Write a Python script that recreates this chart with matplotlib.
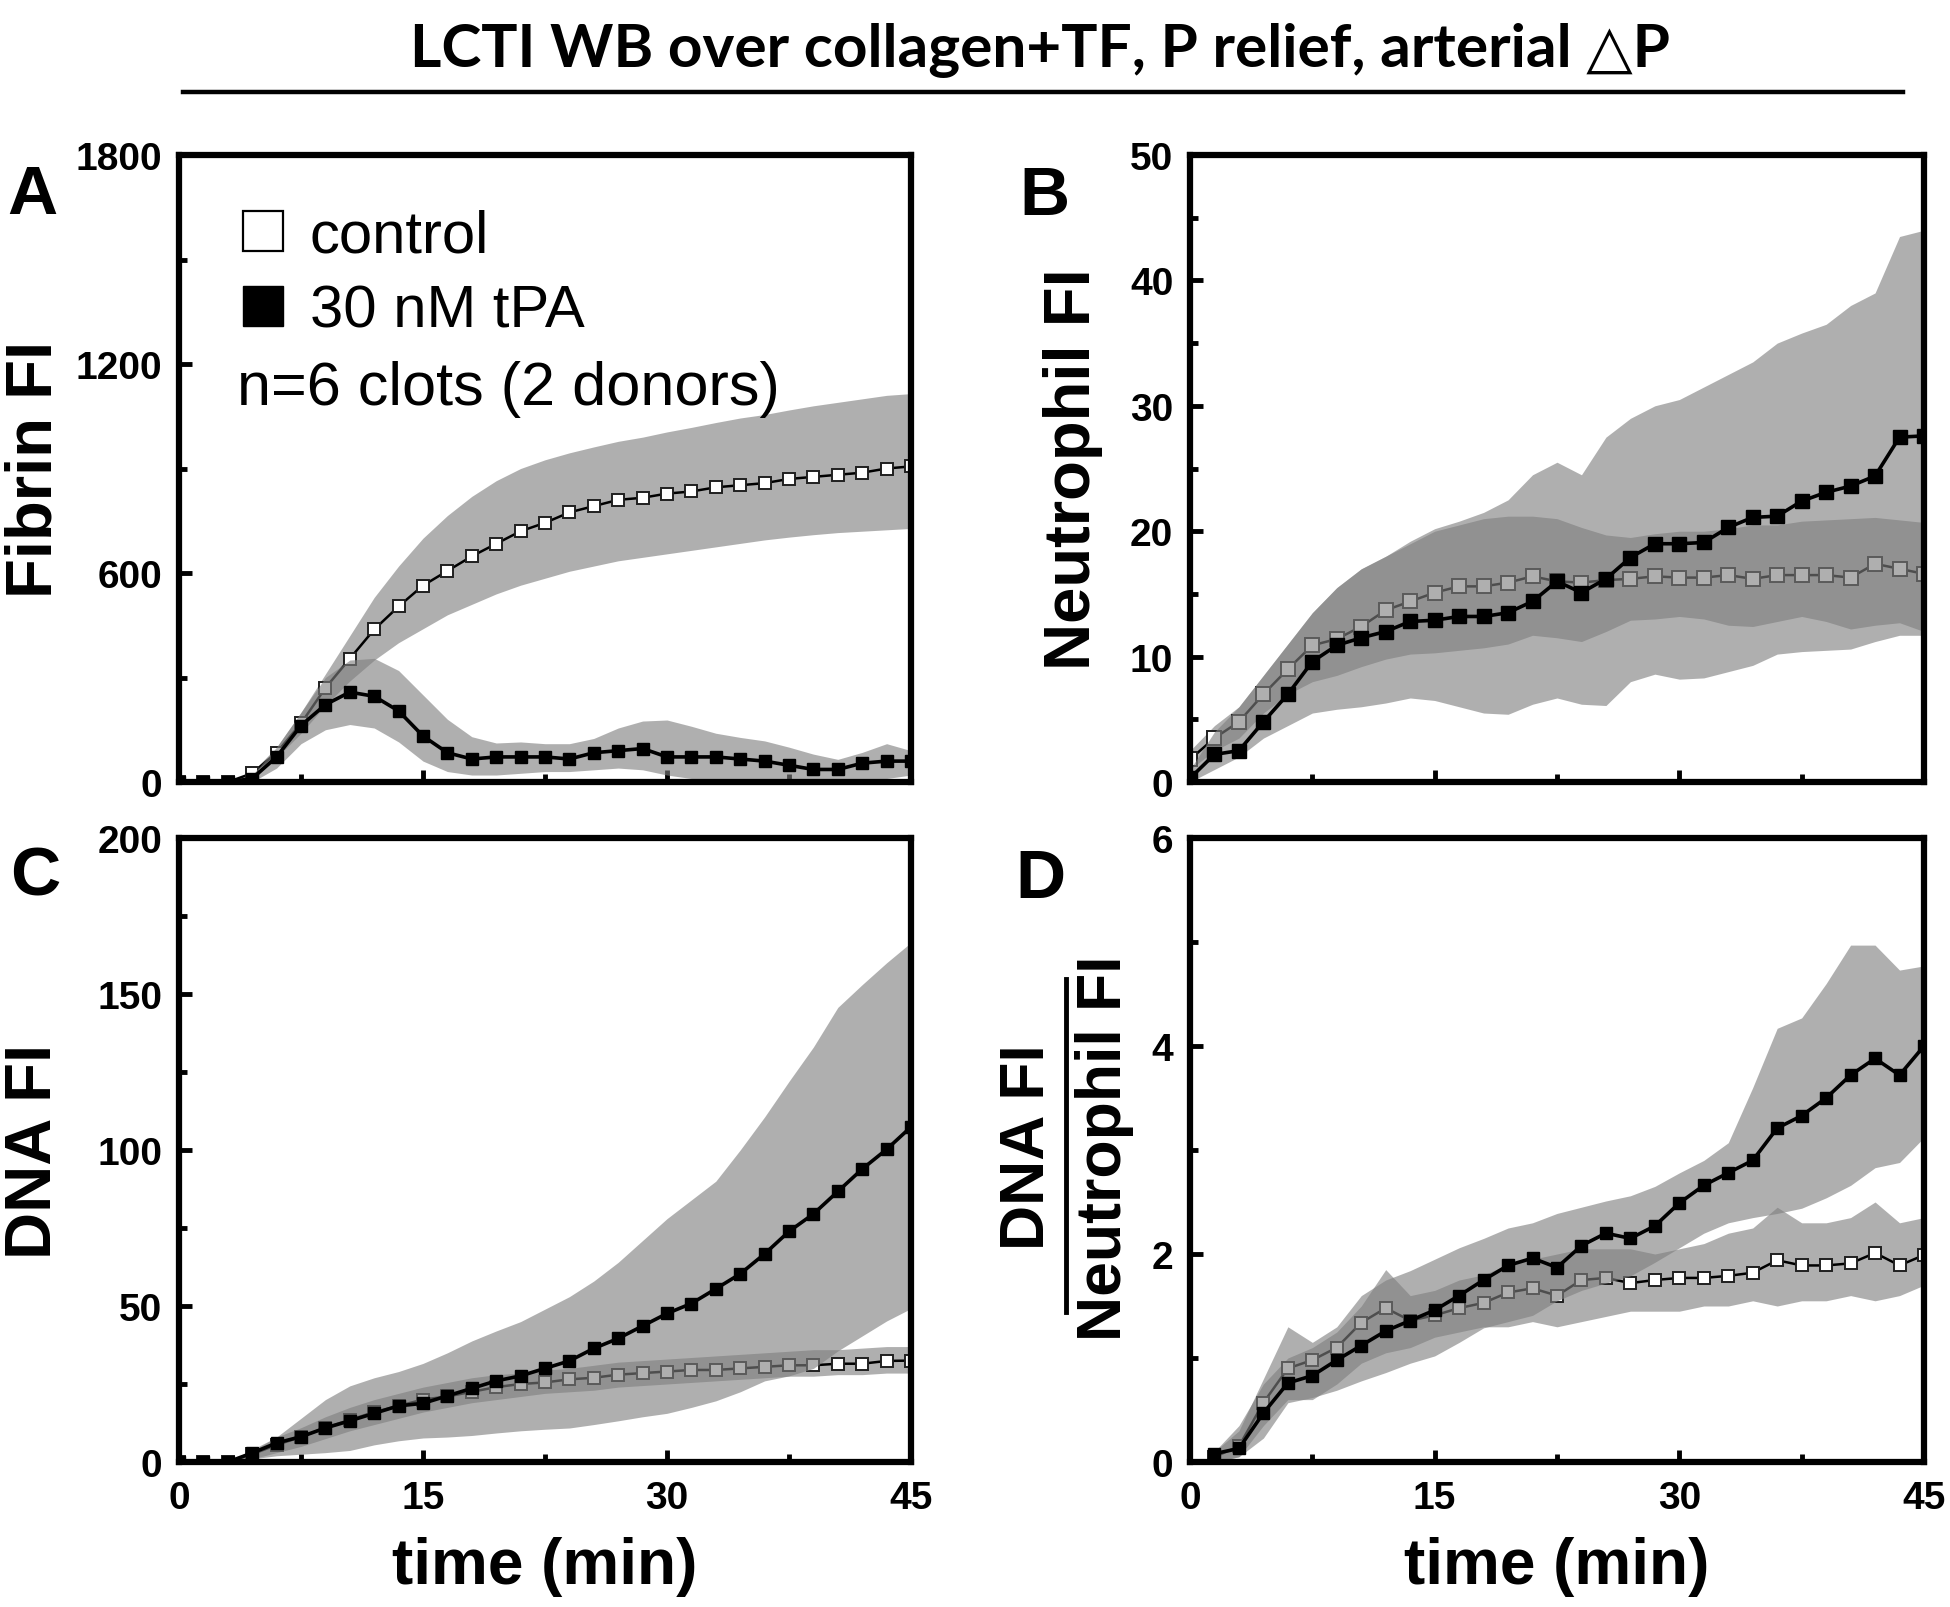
import matplotlib
matplotlib.use('Agg')
import matplotlib.pyplot as plt
from matplotlib.lines import Line2D
from matplotlib.ticker import MultipleLocator

# ---------------- data ----------------
time = [0, 1.5, 3, 4.5, 6, 7.5, 9, 10.5, 12, 13.5, 15, 16.5, 18, 19.5, 21, 22.5,
        24, 25.5, 27, 28.5, 30, 31.5, 33, 34.5, 36, 37.5, 39, 40.5, 42, 43.5, 45]
time_ratio = [1.5, 3, 4.5, 6, 7.5, 9, 10.5, 12, 13.5, 15, 16.5, 18, 19.5, 21, 22.5,
              24, 25.5, 27, 28.5, 30, 31.5, 33, 34.5, 36, 37.5, 39, 40.5, 42, 43.5, 45]

# Panel A - Fibrin FI
fib_ctrl = [0, 0, 0, 25, 84, 168, 270, 354, 438, 504, 564, 606, 648, 684, 720, 744,
            774, 792, 810, 816, 828, 834, 846, 852, 858, 870, 876, 882, 888, 900, 906]
fib_ctrl_hi = [0, 0, 0, 30, 100, 200, 310, 420, 530, 620, 700, 765, 820, 865, 900, 925,
               945, 962, 978, 990, 1005, 1018, 1032, 1045, 1055, 1068, 1080, 1090, 1100, 1110, 1115]
fib_ctrl_lo = [0, 0, 0, 20, 70, 140, 220, 290, 350, 400, 440, 480, 510, 540, 565, 585,
               605, 620, 635, 645, 655, 665, 675, 685, 695, 703, 710, 716, 720, 724, 728]
fib_tpa = [0, 0, 0, 10, 72, 162, 222, 258, 246, 204, 132, 84, 66, 72, 72, 72,
           66, 84, 90, 96, 72, 72, 72, 66, 60, 48, 36, 36, 54, 60, 60]
fib_tpa_hi = [0, 0, 0, 20, 100, 200, 300, 350, 355, 320, 250, 180, 130, 112, 115, 110,
              110, 125, 155, 175, 178, 160, 140, 128, 118, 100, 80, 65, 85, 110, 90]
fib_tpa_lo = [0, 0, 0, 0, 40, 110, 150, 165, 155, 115, 60, 30, 20, 20, 25, 30,
              30, 35, 40, 35, 20, 10, 10, 5, 5, 0, 0, 0, 10, 10, 20]

# Panel B - Neutrophil FI
neu_ctrl = [1.8, 3.5, 4.8, 7.0, 9.0, 10.9, 11.4, 12.4, 13.7, 14.4, 15.1, 15.6, 15.6, 15.9, 16.4, 16.0,
            15.9, 16.1, 16.2, 16.4, 16.3, 16.3, 16.5, 16.2, 16.5, 16.5, 16.5, 16.3, 17.4, 17.0, 16.6]
neu_ctrl_hi = [2.5, 4.5, 6.0, 8.5, 11.0, 13.5, 15.5, 17.0, 18.0, 19.0, 20.0, 20.5, 21.0, 21.2, 21.2, 21.0,
               20.3, 19.7, 19.5, 19.8, 20.0, 20.0, 20.2, 20.5, 20.5, 20.8, 20.9, 21.0, 21.1, 20.9, 20.7]
neu_ctrl_lo = [1.0, 2.5, 3.5, 5.5, 7.0, 8.0, 8.5, 9.2, 9.8, 10.2, 10.3, 10.5, 10.7, 11.0, 11.7, 11.5,
               11.2, 12.0, 12.9, 13.0, 13.2, 13.0, 12.5, 12.4, 12.8, 13.2, 12.8, 12.2, 12.5, 12.7, 12.0]
neu_tpa = [0.3, 2.2, 2.5, 4.8, 7.0, 9.6, 10.9, 11.5, 12.0, 12.8, 12.9, 13.2, 13.2, 13.5, 14.4, 16.0,
           15.1, 16.2, 17.9, 19.0, 19.0, 19.1, 20.3, 21.1, 21.2, 22.4, 23.1, 23.6, 24.4, 27.5, 27.6]
neu_tpa_hi = [1.0, 4.0, 6.0, 8.5, 11.0, 13.5, 15.5, 17.0, 18.0, 19.2, 20.2, 20.8, 21.5, 22.5, 24.5, 25.5,
              24.5, 27.5, 29.0, 30.0, 30.5, 31.5, 32.5, 33.5, 35.0, 35.8, 36.5, 38.0, 39.0, 43.5, 44.0]
neu_tpa_lo = [0.0, 1.0, 2.0, 3.5, 4.5, 5.5, 5.8, 6.0, 6.3, 6.7, 6.5, 6.0, 5.5, 5.4, 6.2, 6.7,
              6.2, 6.1, 8.0, 8.6, 8.2, 8.3, 8.8, 9.3, 10.2, 10.4, 10.5, 10.6, 11.2, 11.7, 11.7]

# Panel C - DNA FI
dna_ctrl = [0, 0, 0, 2.5, 5.5, 8, 11, 13.5, 16, 18, 20, 21, 22.5, 24, 25, 25.5,
            26.5, 27, 28, 28.5, 29, 29.5, 29.5, 30, 30.5, 31, 31, 31.5, 31.5, 32.4, 32.5]
dna_ctrl_hi = [0, 0, 0, 4, 8, 11, 14.5, 17.5, 20, 22, 24, 25.5, 27, 28, 28.5, 29.5,
               30, 31, 32, 32.5, 33, 33.5, 34, 34.5, 35, 35.5, 36, 36, 36.5, 37, 37]
dna_ctrl_lo = [0, 0, 0, 1, 3, 5, 7.5, 10, 12, 14, 16, 17.5, 19, 20, 21, 22,
               22.5, 23, 24, 24.5, 25, 25.5, 26, 26.5, 27, 27.5, 27.5, 28, 28, 28.5, 28.5]
dna_tpa = [0, 0, 0, 2.9, 6.1, 8.1, 10.9, 13.2, 15.6, 18, 18.8, 21.2, 23.6, 26, 27.6, 30,
           32.4, 36.4, 39.6, 43.6, 47.6, 50.8, 55.5, 60.3, 66.7, 73.9, 79.5, 86.7, 93.9, 100.2, 107.4]
dna_tpa_hi = [0, 0, 0.5, 3.5, 8, 14, 20, 24.4, 27, 29, 31.6, 35, 38.8, 42, 45, 49,
              53, 58, 64, 71, 78, 84, 90, 100, 110.6, 122, 133, 145.7, 153, 160, 166.5]
dna_tpa_lo = [0, 0, 0, 1, 2, 2.5, 3, 3.7, 5.5, 6.8, 7.7, 8, 8.5, 9.3, 10, 10.5,
              10.9, 12, 13.2, 14.5, 15.6, 17.5, 19.6, 22.5, 26, 27.6, 30, 35.6, 40.4, 45.2, 49.2]

# Panel D - DNA FI / Neutrophil FI
rat_ctrl = [0.05, 0.15, 0.57, 0.9, 0.98, 1.1, 1.34, 1.48, 1.36, 1.41, 1.48, 1.53, 1.63, 1.67, 1.6,
            1.75, 1.77, 1.72, 1.75, 1.77, 1.77, 1.79, 1.82, 1.94, 1.89, 1.89, 1.91, 2.01, 1.89, 1.99]
rat_ctrl_hi = [0.1, 0.35, 0.75, 1.0, 1.1, 1.25, 1.5, 1.85, 1.6, 1.65, 1.75, 1.8, 1.9, 1.95, 2.0,
               2.05, 2.05, 2.05, 2.0, 2.05, 2.1, 2.2, 2.25, 2.45, 2.3, 2.3, 2.35, 2.5, 2.3, 2.35]
rat_ctrl_lo = [0.0, 0.05, 0.35, 0.6, 0.6, 0.75, 0.95, 1.05, 1.1, 1.2, 1.25, 1.3, 1.3, 1.35, 1.3,
               1.35, 1.4, 1.45, 1.45, 1.45, 1.5, 1.5, 1.55, 1.5, 1.55, 1.55, 1.6, 1.55, 1.6, 1.7]
rat_tpa = [0.08, 0.13, 0.47, 0.76, 0.83, 0.98, 1.12, 1.26, 1.36, 1.46, 1.6, 1.75, 1.89, 1.96, 1.87,
           2.08, 2.2, 2.15, 2.27, 2.49, 2.66, 2.78, 2.9, 3.21, 3.33, 3.5, 3.72, 3.88, 3.72, 4.0]
rat_tpa_hi = [0.1, 0.3, 0.8, 1.3, 1.15, 1.3, 1.6, 1.75, 1.84, 1.95, 2.06, 2.15, 2.25, 2.3, 2.39,
              2.45, 2.51, 2.56, 2.65, 2.78, 2.9, 3.07, 3.6, 4.17, 4.27, 4.6, 4.97, 4.97, 4.73, 4.77]
rat_tpa_lo = [0.0, 0.05, 0.23, 0.57, 0.62, 0.69, 0.78, 0.86, 0.95, 1.02, 1.15, 1.29, 1.35, 1.41, 1.55,
              1.65, 1.72, 1.79, 1.92, 2.06, 2.2, 2.3, 2.35, 2.39, 2.44, 2.54, 2.66, 2.83, 2.88, 3.12]

title = "LCTI WB over collagen+TF, P relief, arterial \u25b3P"
legend_labels = ["control", "30 nM tPA"]
note = "n=6 clots (2 donors)"

# ---------------- style ----------------
plt.rcParams['font.family'] = ['Liberation Sans', 'DejaVu Sans']
W, H = 1950, 1608
fig = plt.figure(figsize=(W / 100, H / 100), dpi=100)

def frac_box(l, t, r, b):
    return [l / W, 1 - b / H, (r - l) / W, (b - t) / H]

band_kw = dict(color='#7f7f7f', alpha=0.62, linewidth=0)

def panel(box, t, c, c_hi, c_lo, p, p_hi, p_lo, ymax, ymaj, ms, show_x):
    ax = fig.add_axes(frac_box(*box))
    ax.fill_between(t, c_lo, c_hi, zorder=1, **band_kw)
    ax.plot(t, c, color='black', lw=1.8, marker='s', ms=ms, mfc='white',
            mec='#202020', mew=1.4, zorder=2)
    ax.fill_between(t, p_lo, p_hi, zorder=3, **band_kw)
    ax.plot(t, p, color='black', lw=2.6, marker='s', ms=ms, mfc='black',
            mec='black', zorder=4)
    ax.set_xlim(0, 45)
    ax.set_ylim(0, ymax)
    ax.xaxis.set_major_locator(MultipleLocator(15))
    ax.xaxis.set_minor_locator(MultipleLocator(7.5))
    ax.yaxis.set_major_locator(MultipleLocator(ymaj))
    ax.yaxis.set_minor_locator(MultipleLocator(ymaj / 2))
    for s in ax.spines.values():
        s.set_linewidth(4.5)
        s.set_zorder(10)
    ax.tick_params(which='both', direction='in', top=False, right=False, width=3.5)
    ax.tick_params(which='major', length=9)
    ax.tick_params(which='minor', length=6)
    ax.tick_params(axis='y', which='major', pad=12)
    ax.tick_params(axis='x', which='major', pad=13)
    for lab in ax.get_yticklabels() + ax.get_xticklabels():
        lab.set_fontsize(28)
        lab.set_fontweight('bold')
    if show_x:
        ax.set_xlabel('time (min)', fontsize=46, fontweight='bold')
        ax.xaxis.label.set_verticalalignment('center')
        ax.xaxis.set_label_coords(0.5, -0.166)
    else:
        ax.set_xticklabels([])
    return ax

axA = panel((179, 156, 911, 783), time, fib_ctrl, fib_ctrl_hi, fib_ctrl_lo,
            fib_tpa, fib_tpa_hi, fib_tpa_lo, 1800, 600, 8, False)
axB = panel((1190, 156, 1924, 783), time, neu_ctrl, neu_ctrl_hi, neu_ctrl_lo,
            neu_tpa, neu_tpa_hi, neu_tpa_lo, 50, 10, 10, False)
axC = panel((179, 839, 911, 1463), time, dna_ctrl, dna_ctrl_hi, dna_ctrl_lo,
            dna_tpa, dna_tpa_hi, dna_tpa_lo, 200, 50, 9, True)
axD = panel((1190, 839, 1924, 1463), time_ratio, rat_ctrl, rat_ctrl_hi, rat_ctrl_lo,
            rat_tpa, rat_tpa_hi, rat_tpa_lo, 6, 2, 9, True)

for ax, lab, xc in [(axA, 'Fibrin FI', -0.198), (axB, 'Neutrophil FI', -0.160),
                    (axC, 'DNA FI', -0.198)]:
    ax.set_ylabel(lab, fontsize=47, fontweight='bold')
    ax.yaxis.label.set_verticalalignment('center')
    ax.yaxis.set_label_coords(xc, 0.5)

# D fraction label
fig.text(1027 / W, 1 - 1147 / H, 'DNA FI', rotation=90, fontsize=45,
         fontweight='bold', ha='center', va='center')
fig.text(1105 / W, 1 - 1148 / H, 'Neutrophil FI', rotation=90, fontsize=45,
         fontweight='bold', ha='center', va='center')
fig.add_artist(Line2D([1066 / W, 1066 / W], [1 - 980 / H, 1 - 1313 / H],
                      transform=fig.transFigure, color='black', lw=3.5))

# legend
handles = [Line2D([], [], ls='none', marker='s', ms=29, mfc='white', mec='black', mew=1.6),
           Line2D([], [], ls='none', marker='s', ms=29, mfc='black', mec='black')]
leg = axA.legend(handles, legend_labels, loc='upper left', bbox_to_anchor=(0.074, 0.914),
                 frameon=False, fontsize=43, handlelength=1.0, handletextpad=0.28,
                 labelspacing=0.33, borderpad=0, borderaxespad=0)
axA.text(0.079, 0.628, note, transform=axA.transAxes, fontsize=44, va='center', ha='left')

# panel letters
for x, y, s in [(32, 196, 'A'), (1044, 197, 'B'), (35, 878, 'C'), (1040, 880, 'D')]:
    fig.text(x / W, 1 - y / H, s, fontsize=50, fontweight='bold', ha='center', va='center')

# title and rule
fig.text(1040 / W, 1 - 50 / H, title, fontsize=43.5, fontweight='bold', ha='center',
         va='center', family=['Lato', 'DejaVu Sans'])
fig.add_artist(Line2D([183 / W, 1903 / W], [1 - 93 / H, 1 - 93 / H],
                      transform=fig.transFigure, color='black', lw=3.2))

fig.savefig('out.png', dpi=100)
